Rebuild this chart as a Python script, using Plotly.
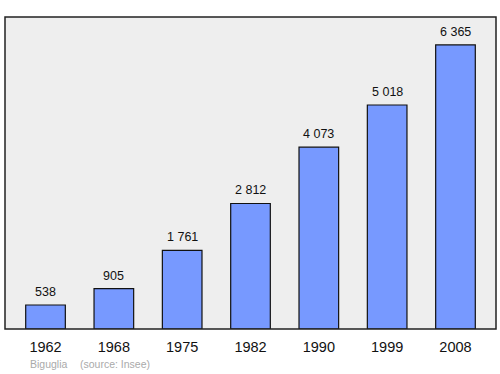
import plotly.graph_objects as go

years = ["1962", "1968", "1975", "1982", "1990", "1999", "2008"]
population = [538, 905, 1761, 2812, 4073, 5018, 6365]
labels = ["538", "905", "1 761", "2 812", "4 073", "5 018", "6 365"]

xs = list(range(len(years)))

fig = go.Figure()
fig.add_trace(go.Bar(
    x=xs, y=population, width=0.58,
    marker=dict(color="#7799ff", line=dict(color="#111111", width=1.2)),
    hoverinfo="skip",
))
for x, y, t in zip(xs, population, labels):
    fig.add_annotation(x=x, y=y, text=t, showarrow=False, yanchor="bottom",
                       yshift=4, font=dict(size=12.5, color="#111111"))

fig.add_annotation(xref="paper", yref="paper", x=0.046, y=-0.088, xanchor="left",
                   yanchor="top", showarrow=False,
                   text="Biguglia\u2002\u2002\u2009(source: Insee)",
                   font=dict(size=10.5, color="#aaaaaa"))

fig.add_shape(type="rect", xref="paper", yref="paper", x0=0, y0=0, x1=1, y1=1,
              line=dict(color="#222222", width=1.5), layer="above")

fig.update_layout(
    width=500, height=374,
    margin=dict(l=5, r=4, t=17, b=45),
    paper_bgcolor="white", plot_bgcolor="#eeeeee",
    showlegend=False,
    font=dict(family="Liberation Sans, Arial, sans-serif", color="#111111"),
    xaxis=dict(range=[-0.593, 6.593], tickvals=xs, ticktext=years,
               showgrid=False, zeroline=False, ticks="outside", ticklen=5,
               tickcolor="rgba(0,0,0,0)", showline=False,
               tickfont=dict(size=14.5)),
    yaxis=dict(range=[0, 6990], visible=False, showgrid=False, zeroline=False),
)
fig.write_html("out.html", config={"displayModeBar": False},
               post_script="document.body.style.margin='0';document.body.style.padding='0';")
